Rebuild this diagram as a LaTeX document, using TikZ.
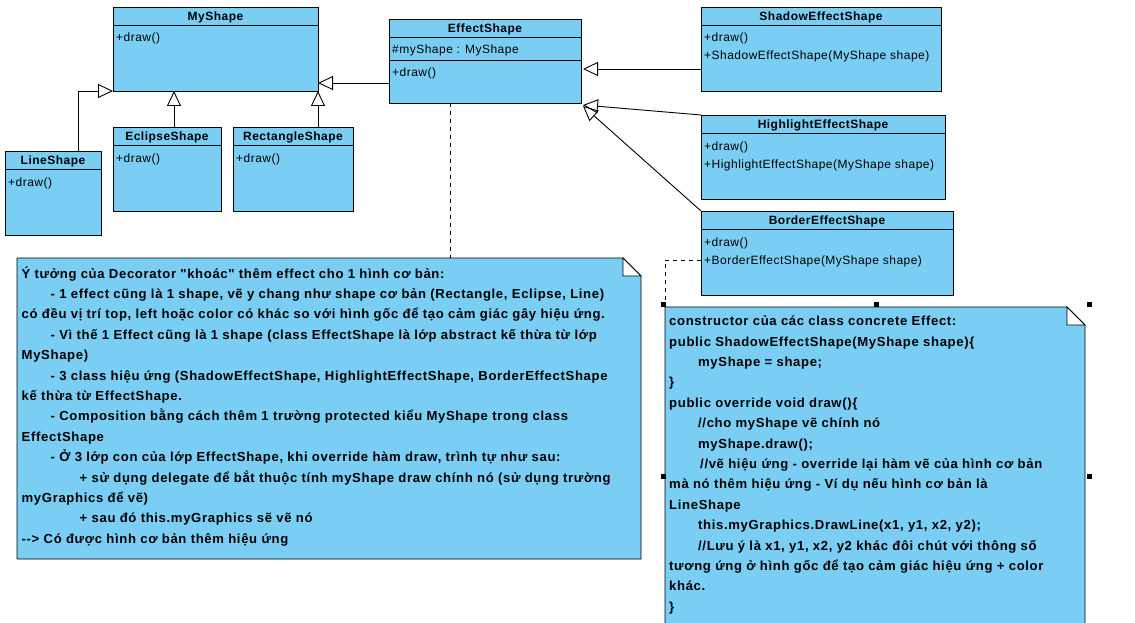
\documentclass[tikz,border=0pt]{standalone}
\usepackage{fontspec}
\setmainfont{Liberation Sans}
\newfontfamily\vp[LetterSpace=4]{Liberation Sans}
\newfontfamily\vpn[LetterSpace=5]{Liberation Sans}
\usetikzlibrary{arrows.meta}
\definecolor{vpblue}{RGB}{122,206,244}
\tikzset{
  clsbox/.style={draw, fill=vpblue, line width=0.9pt, anchor=north west, inner sep=0pt, outer sep=0pt},
  clstitle/.style={font=\vp\bfseries\fontsize{12}{14}\selectfont, anchor=base, inner sep=0pt},
  clsop/.style={font=\vp\fontsize{12}{14}\selectfont, anchor=base west, inner sep=0pt},
  inh/.style={line width=0.9pt, -{Triangle[open, length=15pt, width=14pt]}},
  dep/.style={line width=0.9pt, dash pattern=on 4pt off 4pt},
  notebox/.style={anchor=north west, inner sep=0pt, outer sep=0pt, draw=none},
  notetext/.style={font=\vpn\bfseries\fontsize{13.1}{20.4}\selectfont, anchor=north west, align=left, inner sep=0pt},
  handle/.style={fill=black}
}
\newcommand\umlbox[6]{%
  \node[clsbox, minimum width=#4pt, minimum height=#5pt] (#1) at (#2,#3) {};
  \draw[line width=0.9pt] ([yshift=-18pt]#1.north west) -- ([yshift=-18pt]#1.north east);
  \node[clstitle] (#1-title) at ([yshift=-13.5pt]#1.north) {#6};
}
\newcommand\vpnote[1]{%
  \fill[vpblue] (#1.north west) -- ([xshift=-18pt]#1.north east) -- ([yshift=-18pt]#1.north east) -- (#1.south east) -- (#1.south west) -- cycle;
  \draw[line width=0.9pt] (#1.north west) -- ([xshift=-18pt]#1.north east) -- ([yshift=-18pt]#1.north east) -- (#1.south east) -- (#1.south west) -- cycle;
  \draw[line width=0.9pt, fill=white] ([xshift=-18pt]#1.north east) -- ([xshift=-18pt,yshift=-18pt]#1.north east) -- ([yshift=-18pt]#1.north east) -- cycle;
}
\begin{document}
\begin{tikzpicture}[x=1pt,y=-1pt]
\path[use as bounding box, clip] (0,0) rectangle (1135,623);
\fill[white] (0,0) rectangle (1135,623);

% classes
\umlbox{myshape}{113}{7}{205}{84}{MyShape}
\node[clsop] (myshape-op1) at ([shift={(3pt,-35pt)}]myshape.north west) {+draw()};

\umlbox{lineshape}{5}{151}{96}{84}{LineShape}
\node[clsop] (lineshape-op1) at ([shift={(3pt,-35pt)}]lineshape.north west) {+draw()};

\umlbox{eclipse}{113}{127}{108}{84}{EclipseShape}
\node[clsop] (eclipse-op1) at ([shift={(3pt,-35pt)}]eclipse.north west) {+draw()};

\umlbox{rect}{233}{127}{120}{84}{RectangleShape}
\node[clsop] (rect-op1) at ([shift={(3pt,-35pt)}]rect.north west) {+draw()};

\umlbox{effect}{389}{19}{192}{84}{EffectShape}
\draw[line width=0.9pt] ([yshift=-41pt]effect.north west) -- ([yshift=-41pt]effect.north east);
\node[clsop] (effect-attr) at ([shift={(3pt,-35pt)}]effect.north west) {\#myShape : MyShape};
\node[clsop] (effect-op1) at ([shift={(3pt,-58pt)}]effect.north west) {+draw()};

\umlbox{shadow}{701}{7}{240}{84}{ShadowEffectShape}
\node[clsop] (shadow-op1) at ([shift={(3pt,-35pt)}]shadow.north west) {+draw()};
\node[clsop] (shadow-op2) at ([shift={(3pt,-53pt)}]shadow.north west) {+ShadowEffectShape(MyShape shape)};

\umlbox{highlight}{701}{115}{244}{84}{HighlightEffectShape}
\node[clsop] (highlight-op1) at ([shift={(3pt,-35pt)}]highlight.north west) {+draw()};
\node[clsop] (highlight-op2) at ([shift={(3pt,-53pt)}]highlight.north west) {+HighlightEffectShape(MyShape shape)};

\umlbox{border}{701}{211}{252}{84}{BorderEffectShape}
\node[clsop] (border-op1) at ([shift={(3pt,-35pt)}]border.north west) {+draw()};
\node[clsop] (border-op2) at ([shift={(3pt,-53pt)}]border.north west) {+BorderEffectShape(MyShape shape)};

% notes
\node[notebox, minimum width=624pt, minimum height=301pt] (leftnote) at (17,258) {};
\vpnote{leftnote}
\node[notetext] (leftnote-text) at (21.5,263.7) {\strut Ý tưởng của Decorator "khoác" thêm effect cho 1 hình cơ bản:\\
\hspace*{29pt}- 1 effect cũng là 1 shape, vẽ y chang như shape cơ bản (Rectangle, Eclipse, Line)\\
có đều vị trí top, left hoặc color có khác so với hình gốc để tạo cảm giác gây hiệu ứng.\\
\hspace*{29pt}- Vì thế 1 Effect cũng là 1 shape (class EffectShape là lớp abstract kế thừa từ lớp\\
MyShape)\\
\hspace*{29pt}- 3 class hiệu ứng (ShadowEffectShape, HighlightEffectShape, BorderEffectShape\\
kế thừa từ EffectShape.\\
\hspace*{29pt}- Composition bằng cách thêm 1 trường protected kiểu MyShape trong class\\
EffectShape\\
\hspace*{29pt}- Ở 3 lớp con của lớp EffectShape, khi override hàm draw, trình tự như sau:\\
\hspace*{58pt}+ sử dụng delegate để bắt thuộc tính myShape draw chính nó (sử dụng trường\\
myGraphics để vẽ)\\
\hspace*{58pt}+ sau đó this.myGraphics sẽ vẽ nó\\
-{}-> Có được hình cơ bản thêm hiệu ứng};

\node[notebox, minimum width=420pt, minimum height=338pt] (rightnote) at (665,307) {};
\vpnote{rightnote}
\node[notetext] (rightnote-text) at (669,311.2) {\strut constructor của các class concrete Effect:\\
public ShadowEffectShape(MyShape shape)\{\\
\hspace*{29pt}myShape = shape;\\
\}\\
public override void draw()\{\\
\hspace*{29pt}//cho myShape vẽ chính nó\\
\hspace*{29pt}myShape.draw();\\
\hspace*{31pt}//vẽ hiệu ứng - override lại hàm vẽ của hình cơ bản\\
mà nó thêm hiệu ứng - Ví dụ nếu hình cơ bản là\\
LineShape\\
\hspace*{29pt}this.myGraphics.DrawLine(x1, y1, x2, y2);\\
\hspace*{29pt}//Lưu ý là x1, y1, x2, y2 khác đôi chút với thông số\\
tương ứng ở hình gốc để tạo cảm giác hiệu ứng + color\\
khác.\\
\}};

% connectors
\draw[inh] ([xshift=25pt]lineshape.north) |- (myshape.south west);
\draw[inh] ([xshift=7pt]eclipse.north) -- ([xshift=7pt]eclipse.north |- myshape.south);
\draw[inh] ([xshift=25pt]rect.north) -- ([xshift=25pt]rect.north |- myshape.south);
\draw[inh] ([yshift=20pt]effect.south west) -- ([yshift=20pt]effect.south west -| myshape.east);
\draw[inh] ([yshift=22pt]shadow.south west) -- ([yshift=22pt,xshift=2pt]shadow.south west -| effect.east);
\draw[inh] (highlight.north west) -- ([shift={(2pt,-2pt)}]effect.south east);
\draw[inh] (border.north west) -- ([shift={(2pt,-3pt)}]effect.south east);
\draw[dep] ([xshift=-35pt]effect.south) -- ([xshift=-35pt]effect.south |- leftnote.north);
\draw[dep] ([yshift=35pt]border.south west) -| (rightnote.north west);

% selection handles
\foreach \hx/\hy in {663/304, 876/304, 1089/304, 663/476, 1089/476}
  \fill[handle] (\hx-2.5,\hy-2.5) rectangle (\hx+2.5,\hy+2.5);
\end{tikzpicture}
\end{document}
